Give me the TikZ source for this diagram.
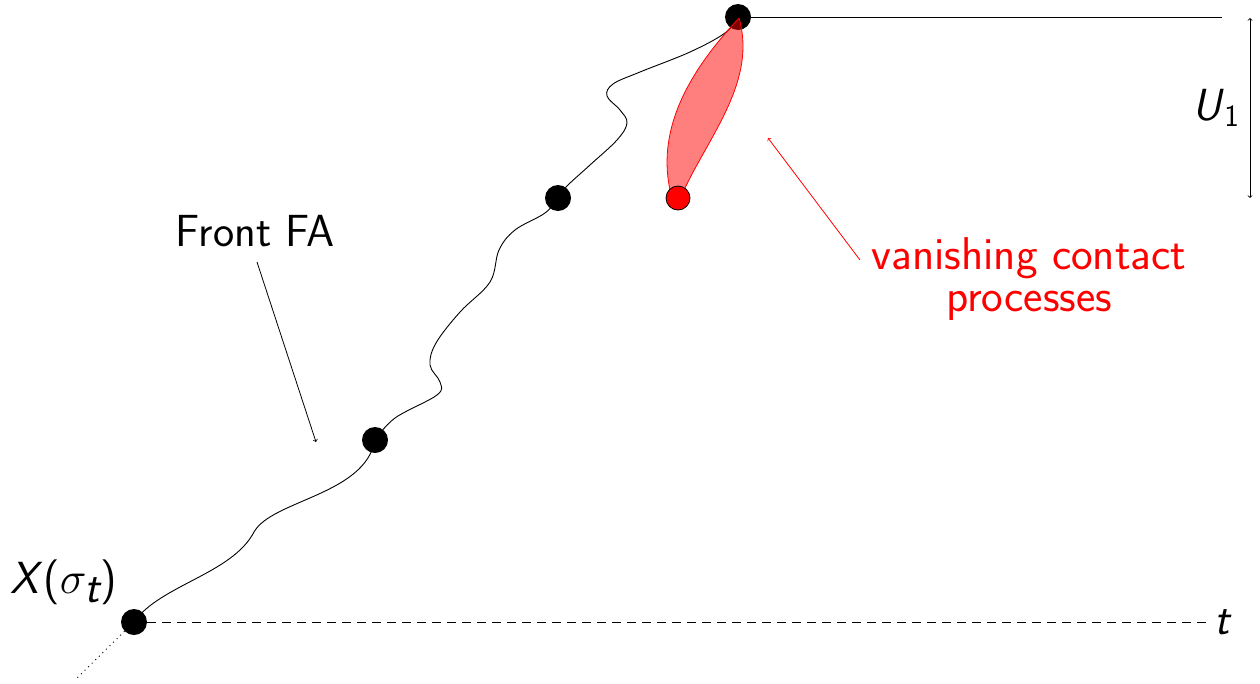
\RequirePackage{fix-cm}
\documentclass[tikz,border=0pt]{standalone}
\usetikzlibrary{backgrounds}
\begin{document}
\begin{tikzpicture}[x=1pt,y=-1pt,
  bigtext/.style={font=\fontsize{45}{40}\selectfont\sffamily},
  dot/.style={circle,fill=black,inner sep=0pt,minimum size=26pt},
  reddot/.style={circle,fill=red,draw=black,line width=0.8pt,inner sep=0pt,minimum size=24pt},
  path/.style={line width=0.9pt},
  pointer/.style={line width=0.8pt,->}]
\useasboundingbox (0,0) rectangle (1260,683);

% events on the front
\node[dot] (d0) at (134,622) {};
\node[dot] (d1) at (375,440) {};
\node[dot] (d2) at (558,198) {};
\node[dot] (d3) at (738,17) {};

\begin{pgfonlayer}{background}
% trajectory of the front
\draw[path] (d0.center) .. controls (160,585) and (232,574) .. (254,532)
  .. controls (272,500) and (365,495) .. (d1.center);
\draw[path] plot[smooth,tension=0.6] coordinates {(375,440) (395,418) (437,395) (440,382) (430,365) (436,343) (460,312) (490,282) (499,250) (515,230) (545,213) (558,198)};
\draw[path] plot[smooth,tension=0.6] coordinates {(558,198) (567,186) (590,165) (617,140) (627,123) (620,110) (607,96) (613,84) (640,72) (690,52) (725,33) (738,17)};
\end{pgfonlayer}

% dying contact process
\coordinate (tip) at (739,18);
\fill[red,fill opacity=0.5] (tip) .. controls (700,60) and (655,120) .. (670,190)
  -- (684,190) .. controls (710,135) and (757,80) .. (tip) -- cycle;
\draw[red,line width=0.8pt] (tip) .. controls (700,60) and (655,120) .. (670,190)
  -- (684,190) .. controls (710,135) and (757,80) .. (tip);
\node[reddot] (r) at (678,198) {};

% reference lines
\coordinate (hend) at (1222,17);
\draw[path] (d3) -- (hend);
\node[bigtext,font=\fontsize{45}{40}\selectfont\sffamily\itshape] (t) at (1222,622) {t};
\draw[path,dash pattern=on 9pt off 6pt] (d0) -- (t.west);
\coordinate (past) at (75,680);
\draw[line width=0.9pt,dash pattern=on 1pt off 4pt] (d0) -- (past);

% height of the window
\coordinate (ua) at (1250,18);
\coordinate (ub) at (1250,198);
\draw[line width=0.8pt,<->] (ua) -- (ub);
\node[bigtext] (u) at (1216,108) {\textit{U}\textsubscript{\upshape\fontsize{31}{31}\selectfont 1}};

% labels
\node[bigtext] (x) at (64,582) {\textit{X}($\sigma_{\textit{t}}$)};
\node[bigtext] (ff) at (255,231) {Front FA};
\draw[pointer] (257,262) -- (316,442);
\node[bigtext,font=\fontsize{46}{42}\selectfont\sffamily,text=red,align=center] (vc) at (1029,279) {vanishing contact\\processes};
\draw[pointer,red] (860,260) -- (768,138);
\end{tikzpicture}
\end{document}
